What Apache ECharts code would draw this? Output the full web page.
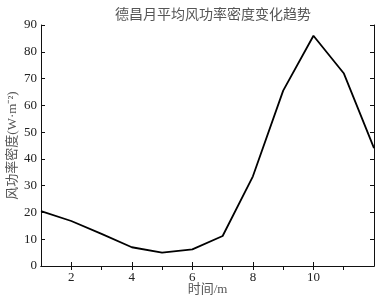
<!DOCTYPE html>
<html><head><meta charset="utf-8">
<script src="https://cdn.jsdelivr.net/npm/echarts@6/dist/echarts.min.js"></script>
<style>html,body{margin:0;padding:0;background:#fff}#c{width:378px;height:300px}</style>
</head><body><div id="c"></div>
<script>
const months = [1,2,3,4,5,6,7,8,9,10,11,12];
const density = [20.5,16.8,12,7,5,6.2,11.2,33.5,65.5,86,72,44];
const xTicks = [2,4,6,8,10];
const topTicks = [2,3,4,5,6,7,8,9,10,11];
const serif = '"Liberation Serif","Noto Sans CJK SC",serif';
const chart = echarts.init(document.getElementById('c'));
chart.setOption({
  animation:false,
  title:{text:'德昌月平均风功率密度变化趋势',left:208,top:3,textAlign:'center',
    textStyle:{fontFamily:serif,fontSize:14,fontWeight:'normal',color:'#555'}},
  grid:{left:41,right:4,top:25,bottom:34,containLabel:false,outerBoundsMode:'none'},
  xAxis:[{type:'value',min:1,max:12,position:'bottom',
    name:'时间/m',nameLocation:'middle',nameGap:17,nameMoveOverlap:false,
    nameTextStyle:{fontFamily:serif,fontSize:13,color:'#555'},
    axisLine:{lineStyle:{color:'#111',width:1}},
    axisTick:{inside:true,length:4,customValues:xTicks,lineStyle:{color:'#111'}},
    axisLabel:{customValues:xTicks,fontFamily:serif,fontSize:13,color:'#222',margin:5},
    splitLine:{show:false}},
   {type:'value',min:1,max:12,position:'top',
    axisLine:{lineStyle:{color:'#111',width:1}},
    axisTick:{inside:true,length:4,customValues:topTicks,lineStyle:{color:'#111'}},
    axisLabel:{show:false},splitLine:{show:false}}],
  yAxis:[{type:'value',min:0,max:90,interval:10,position:'left',
    name:'风功率密度(W·m⁻²)',nameLocation:'middle',nameGap:22,nameMoveOverlap:false,
    nameTextStyle:{fontFamily:serif,fontSize:13,color:'#555'},
    axisLine:{show:true,lineStyle:{color:'#111',width:1}},
    axisTick:{show:true,inside:true,length:4,lineStyle:{color:'#111'}},
    axisLabel:{fontFamily:serif,fontSize:13,color:'#222',margin:4},
    splitLine:{show:false}},
   {type:'value',min:0,max:90,interval:10,position:'right',
    axisLine:{show:true,lineStyle:{color:'#111',width:1}},
    axisTick:{show:true,inside:true,length:4,lineStyle:{color:'#111'}},
    axisLabel:{show:false},splitLine:{show:false}}],
  series:[{type:'line',data:months.map((m,i)=>[m,density[i]]),
    showSymbol:false,lineStyle:{color:'#000',width:1.8}}]
});
</script></body></html>
